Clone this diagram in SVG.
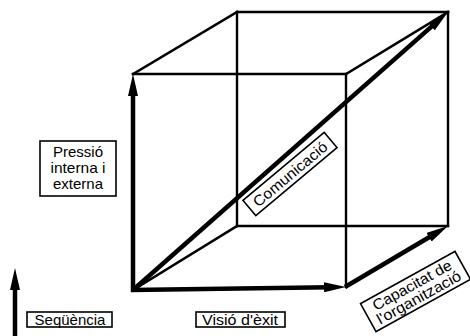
<svg xmlns="http://www.w3.org/2000/svg" width="470" height="336" viewBox="0 0 470 336">
<style>
.edge{stroke:#000;stroke-width:2.4;fill:none;stroke-linecap:square}
.arrow{stroke:#000;stroke-width:4.5;fill:none;stroke-linecap:butt}
.box{fill:#fff;stroke:#000;stroke-width:1.6}
.lbl{font-family:"Liberation Sans",Arial,sans-serif;font-size:15px;fill:#000;text-anchor:middle}
</style>
<defs>
<marker id="ah" viewBox="0 0 22 10" refX="6" refY="5" markerWidth="22" markerHeight="10" markerUnits="userSpaceOnUse" orient="auto">
<path d="M0,0 L22,5 L0,10 Z" fill="#000"/>
</marker>
</defs>
<rect width="470" height="336" fill="#fff"/>
<g id="cube">
<line class="edge" x1="133" y1="74" x2="346" y2="74"/>
<line class="edge" x1="346" y1="74" x2="346" y2="287"/>
<line class="edge" x1="237" y1="12" x2="448" y2="12"/>
<line class="edge" x1="237" y1="12" x2="237" y2="226"/>
<line class="edge" x1="448" y1="12" x2="448" y2="226"/>
<line class="edge" x1="237" y1="226" x2="448" y2="226"/>
<line class="edge" x1="133" y1="74" x2="237" y2="12"/>
<line class="edge" x1="346" y1="74" x2="448" y2="12"/>
<line class="edge" x1="133" y1="290" x2="237" y2="226"/>
</g>
<g id="connectors">
<line class="arrow" x1="133" y1="292" x2="133" y2="90" marker-end="url(#ah)"/>
<line class="arrow" x1="131" y1="290" x2="330" y2="287.2" marker-end="url(#ah)"/>
<line class="arrow" x1="133" y1="290" x2="436" y2="22.6" marker-end="url(#ah)"/>
<line class="arrow" x1="345" y1="287" x2="434.2" y2="234.2" marker-end="url(#ah)"/>
<line class="arrow" x1="15" y1="336" x2="15" y2="284" marker-end="url(#ah)"/>
</g>
<g id="pressio">
<rect class="box" x="40" y="141" width="76" height="55"/>
<text class="lbl" x="78" y="157">Pressió</text>
<text class="lbl" x="78" y="173" textLength="55" lengthAdjust="spacingAndGlyphs">interna i</text>
<text class="lbl" x="78" y="189">externa</text>
</g>
<g id="sequencia">
<rect class="box" x="27" y="312" width="85" height="15"/>
<text class="lbl" x="70" y="324.5">Seqüència</text>
</g>
<g id="visio">
<rect class="box" x="196" y="312" width="89" height="15"/>
<text class="lbl" x="240" y="324.5" textLength="76" lengthAdjust="spacingAndGlyphs">Visió d'èxit</text>
</g>
<g id="comunicacio" transform="translate(290,174) rotate(-40)">
<rect class="box" x="-53" y="-10" width="106" height="20"/>
<text class="lbl" x="0" y="5.5" textLength="92" lengthAdjust="spacingAndGlyphs">Comunicació</text>
</g>
<g id="capacitat" transform="translate(415.5,291.5) rotate(-29)">
<rect class="box" x="-54" y="-16" width="108" height="32"/>
<text class="lbl" x="0" y="-2" textLength="88" lengthAdjust="spacingAndGlyphs">Capacitat de</text>
<text class="lbl" x="0" y="12" textLength="94" lengthAdjust="spacingAndGlyphs">l'organització</text>
</g>
</svg>
